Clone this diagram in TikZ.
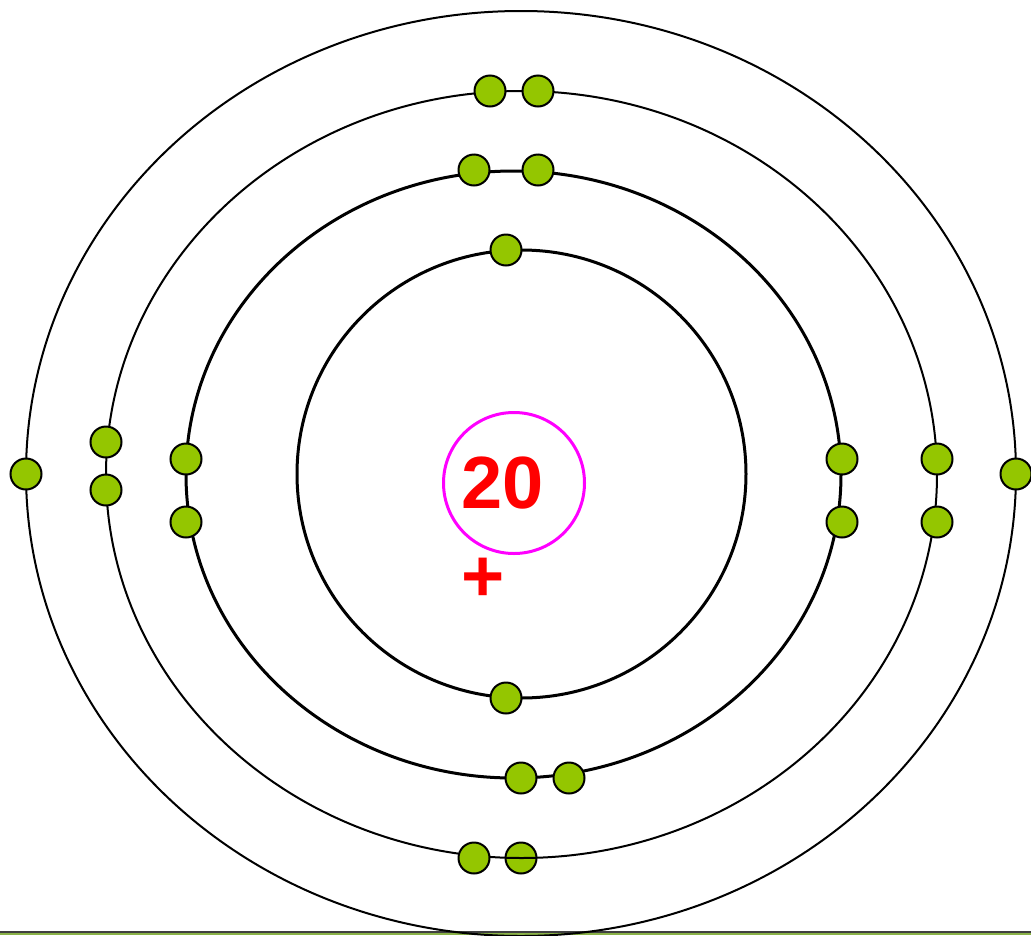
\documentclass[tikz,border=0pt]{standalone}
\usepackage{fontspec}
\newfontfamily\arialfont{Liberation Sans}
\definecolor{elgreen}{RGB}{148,198,0}
\definecolor{nucmag}{RGB}{255,0,255}
\definecolor{stripgreen}{RGB}{138,178,72}
\definecolor{stripgray}{RGB}{64,64,64}
\tikzset{
  electron/.style={circle, draw=black, line width=2pt, fill=elgreen, minimum size=31pt, inner sep=0pt},
  orbitthick/.style={draw=black, line width=3pt},
  orbitthin/.style={draw=black, line width=2pt},
  nucleus/.style={circle, draw=nucmag, line width=3pt, minimum size=141pt, inner sep=0pt},
  bigred/.style={text=red, font=\arialfont\bfseries\fontsize{74}{74}\selectfont, inner sep=0pt}
}
\begin{document}
\begin{tikzpicture}[x=1pt, y=-1pt]
\useasboundingbox (0,0) rectangle (1031,935);
% bottom strip
\fill[stripgreen] (0,932.5) rectangle (1031,935);
\draw[stripgray, line width=1.2pt] (0,932) -- (1031,932);
% electron lying under the third orbit line
\node[electron] (e3g) at (521,858) {};
% orbits
\coordinate (c1) at (521.5,474);
\coordinate (c2) at (513.5,474.5);
\coordinate (c3) at (521.5,474.5);
\coordinate (c4) at (521,473.5);
\draw[orbitthick] (c1) ellipse [x radius=224.5, y radius=224];
\draw[orbitthick] (c2) ellipse [x radius=327.5, y radius=303.5];
\draw[orbitthin] (c3) ellipse [x radius=415.5, y radius=383.5];
\draw[orbitthin] (c4) ellipse [x radius=495, y radius=462.5];
% nucleus
\node[nucleus] (nuc) at (514,483) {};
\node[bigred] (num) at (503,483) {20};
\node[bigred] (plus) at (483.3,580) {+};
% orbit 1
\node[electron] (e1a) at (506,250) {};
\node[electron] (e1b) at (506,698) {};
% orbit 2
\node[electron] (e2a) at (474,170) {};
\node[electron] (e2b) at (538,170) {};
\node[electron] (e2c) at (186,459) {};
\node[electron] (e2d) at (186,522) {};
\node[electron] (e2e) at (842,459) {};
\node[electron] (e2f) at (842,522) {};
\node[electron] (e2g) at (521,778) {};
\node[electron] (e2h) at (569,778) {};
% orbit 3
\node[electron] (e3a) at (490,91) {};
\node[electron] (e3b) at (538,91) {};
\node[electron] (e3c) at (106,442) {};
\node[electron] (e3d) at (106,490) {};
\node[electron] (e3e) at (937,459) {};
\node[electron] (e3f) at (937,522) {};
\node[electron] (e3h) at (474,858) {};
% orbit 4
\node[electron] (e4a) at (26,474) {};
\node[electron] (e4b) at (1016,474) {};
\end{tikzpicture}
\end{document}
